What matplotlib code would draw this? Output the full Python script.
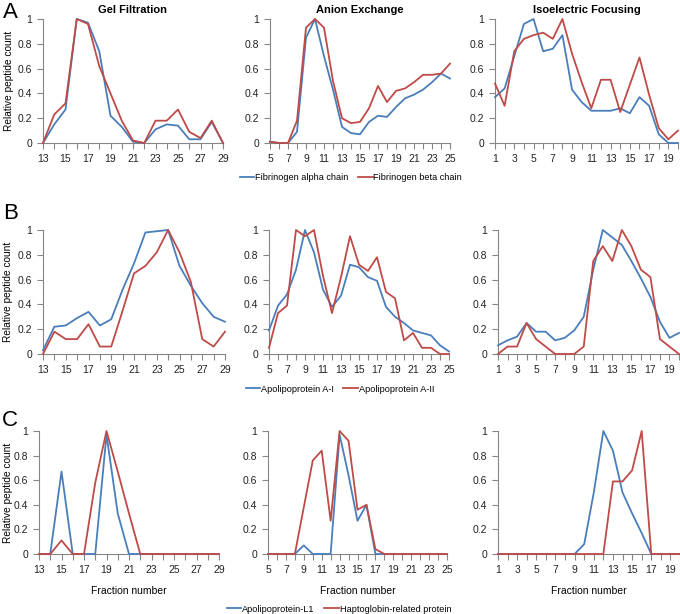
import matplotlib
matplotlib.use("Agg")
import matplotlib.pyplot as plt
from matplotlib.lines import Line2D

plt.rcParams['font.family'] = ['Liberation Sans', 'DejaVu Sans']

BLUE = '#4A7EBB'
RED = '#BE4B48'
AXC = '#868686'

# x ranges
gel_x = list(range(13, 30))
anion_x = list(range(5, 26))
iso_x = list(range(1, 21))

# Row A: Fibrinogen
A_gel_alpha = [0, 0.15, 0.27, 1.0, 0.97, 0.74, 0.22, 0.13, 0.01, 0, 0.11, 0.15, 0.14, 0.03, 0.03, 0.17, 0]
A_gel_beta = [0, 0.23, 0.32, 1.0, 0.96, 0.62, 0.40, 0.18, 0.02, 0, 0.18, 0.18, 0.27, 0.09, 0.04, 0.18, 0]
A_an_alpha = [0.01, 0, 0, 0.09, 0.85, 1.0, 0.70, 0.43, 0.13, 0.08, 0.07, 0.17, 0.22, 0.21, 0.29, 0.36, 0.39, 0.43, 0.49, 0.56, 0.52]
A_an_beta = [0.01, 0, 0, 0.18, 0.93, 1.0, 0.93, 0.50, 0.20, 0.16, 0.17, 0.28, 0.46, 0.33, 0.42, 0.44, 0.49, 0.55, 0.55, 0.56, 0.64]
A_iso_alpha = [0.37, 0.44, 0.70, 0.96, 1.0, 0.74, 0.76, 0.87, 0.43, 0.33, 0.26, 0.26, 0.26, 0.28, 0.24, 0.37, 0.30, 0.07, 0, 0]
A_iso_beta = [0.48, 0.30, 0.74, 0.84, 0.87, 0.89, 0.84, 1.0, 0.72, 0.49, 0.28, 0.51, 0.51, 0.25, 0.47, 0.69, 0.39, 0.12, 0.03, 0.10]

# Row B: Apolipoprotein A-I / A-II
B_gel_a1 = [0.03, 0.22, 0.23, 0.29, 0.34, 0.23, 0.28, 0.52, 0.73, 0.98, 0.99, 1.0, 0.71, 0.55, 0.41, 0.30, 0.26]
B_gel_a2 = [0, 0.18, 0.12, 0.12, 0.24, 0.06, 0.06, 0.35, 0.65, 0.71, 0.82, 1.0, 0.82, 0.58, 0.12, 0.06, 0.18]
B_an_a1 = [0.19, 0.39, 0.48, 0.68, 1.0, 0.82, 0.52, 0.38, 0.47, 0.72, 0.70, 0.62, 0.59, 0.38, 0.30, 0.25, 0.19, 0.17, 0.15, 0.07, 0.02]
B_an_a2 = [0.05, 0.33, 0.39, 1.0, 0.95, 1.0, 0.63, 0.33, 0.62, 0.95, 0.72, 0.67, 0.78, 0.50, 0.45, 0.11, 0.17, 0.05, 0.05, 0, 0]
B_iso_a1 = [0.07, 0.11, 0.14, 0.25, 0.18, 0.18, 0.11, 0.13, 0.19, 0.30, 0.68, 1.0, 0.94, 0.88, 0.75, 0.61, 0.46, 0.26, 0.13, 0.17]
B_iso_a2 = [0, 0.06, 0.06, 0.25, 0.12, 0.06, 0, 0, 0, 0.06, 0.75, 0.87, 0.75, 1.0, 0.87, 0.68, 0.62, 0.12, 0.06, 0]

# Row C: Apolipoprotein-L1 / Haptoglobin-related protein
C_gel_l1 = [0, 0, 0.67, 0, 0, 0, 0.97, 0.33, 0, 0, 0, 0, 0, 0, 0, 0, 0]
C_gel_hp = [0, 0, 0.11, 0, 0, 0.58, 1.0, 0.67, 0.33, 0, 0, 0, 0, 0, 0, 0, 0]
C_an_l1 = [0, 0, 0, 0, 0.07, 0, 0, 0, 0.97, 0.64, 0.27, 0.40, 0, 0, 0, 0, 0, 0, 0, 0, 0]
C_an_hp = [0, 0, 0, 0, 0.38, 0.76, 0.84, 0.27, 1.0, 0.92, 0.36, 0.40, 0.04, 0, 0, 0, 0, 0, 0, 0, 0]
C_iso_l1 = [0, 0, 0, 0, 0, 0, 0, 0, 0, 0.08, 0.50, 1.0, 0.84, 0.50, 0.33, 0.17, 0, 0, 0, 0]
C_iso_hp = [0, 0, 0, 0, 0, 0, 0, 0, 0, 0, 0, 0, 0.59, 0.59, 0.68, 1.0, 0, 0, 0, 0]

titles = ['Gel Filtration', 'Anion Exchange', 'Isoelectric Focusing']
row_letters = ['A', 'B', 'C']
legends = [('Fibrinogen alpha chain', 'Fibrinogen beta chain'),
           ('Apolipoprotein A-I', 'Apolipoprotein A-II'),
           ('Apolipoprotein-L1', 'Haptoglobin-related protein')]

data = [
    [(gel_x, A_gel_alpha, A_gel_beta), (anion_x, A_an_alpha, A_an_beta), (iso_x, A_iso_alpha, A_iso_beta)],
    [(gel_x, B_gel_a1, B_gel_a2), (anion_x, B_an_a1, B_an_a2), (iso_x, B_iso_a1, B_iso_a2)],
    [(gel_x, C_gel_l1, C_gel_hp), (anion_x, C_an_l1, C_an_hp), (iso_x, C_iso_l1, C_iso_hp)],
]

W, H = 680, 614
# pixel boxes: (left, right, top, bottom)
boxes = [
    [(43, 223, 19, 143), (270, 450, 19, 143), (495, 678, 19, 143)],
    [(43, 225, 230, 354), (269, 449, 230, 354), (498, 679, 230, 354)],
    [(39, 219, 431, 554), (268, 447, 431, 554), (498, 680, 431, 554)],
]
ylabel_x = [9, 8, 8]

fig = plt.figure(figsize=(W / 100, H / 100), dpi=100)

for r in range(3):
    for c in range(3):
        l, rr, t, b = boxes[r][c]
        ax = fig.add_axes([l / W, 1 - b / H, (rr - l) / W, (b - t) / H])
        x, s1, s2 = data[r][c]
        ax.plot(x, s1, color=BLUE, lw=1.3, clip_on=False, zorder=3)
        ax.plot(x, s2, color=RED, lw=1.3, clip_on=False, zorder=4)
        ax.set_xlim(x[0], x[-1])
        ax.set_ylim(0, 1)
        ax.set_xticks(x, minor=True)
        ax.set_xticks(x[::2])
        ax.set_xticklabels([str(v) for v in x[::2]])
        ax.set_yticks([0, 0.2, 0.4, 0.6, 0.8, 1.0])
        ax.set_yticklabels(['0', '0.2', '0.4', '0.6', '0.8', '1'])
        for sp in ['top', 'right']:
            ax.spines[sp].set_visible(False)
        for sp in ['left', 'bottom']:
            ax.spines[sp].set_color(AXC)
            ax.spines[sp].set_linewidth(0.8)
        ax.tick_params(axis='both', which='both', direction='out', color=AXC,
                       labelsize=7.5, labelcolor='#222222', width=0.8)
        ax.tick_params(axis='x', which='major', length=4, pad=4)
        ax.tick_params(axis='x', which='minor', length=4)
        ax.tick_params(axis='y', which='major', length=4, pad=4)
        if r == 0:
            ax.set_title(titles[c], fontsize=8, fontweight='bold', pad=4)
        if c == 0:
            fig.text(ylabel_x[r] / W, 1 - ((t + b) / 2) / H, 'Relative peptide count',
                     fontsize=7.3, rotation=90, ha='center', va='center')
        if r == 2:
            ax.set_xlabel('Fraction number', fontsize=7.5, labelpad=8)

# Row letters
fig.text(3 / W, 1 - 13 / H, 'A', fontsize=16, va='center', ha='left')
fig.text(3 / W, 1 - 214 / H, 'B', fontsize=16, va='center', ha='left')
fig.text(2 / W, 1 - 421 / H, 'C', fontsize=16, va='center', ha='left')

# Legends
leg_y = [178, 389, 609]
leg_x = [351, 340, 339]
for r in range(3):
    handles = [Line2D([], [], color=BLUE, lw=1.3), Line2D([], [], color=RED, lw=1.3)]
    fig.legend(handles, legends[r], loc='center', bbox_to_anchor=(leg_x[r] / W, 1 - leg_y[r] / H),
               ncol=2, frameon=False, fontsize=6.6, handlelength=1.6, handletextpad=0.1,
               columnspacing=1.0, borderpad=0, borderaxespad=0)

fig.savefig('out.png', dpi=100)
